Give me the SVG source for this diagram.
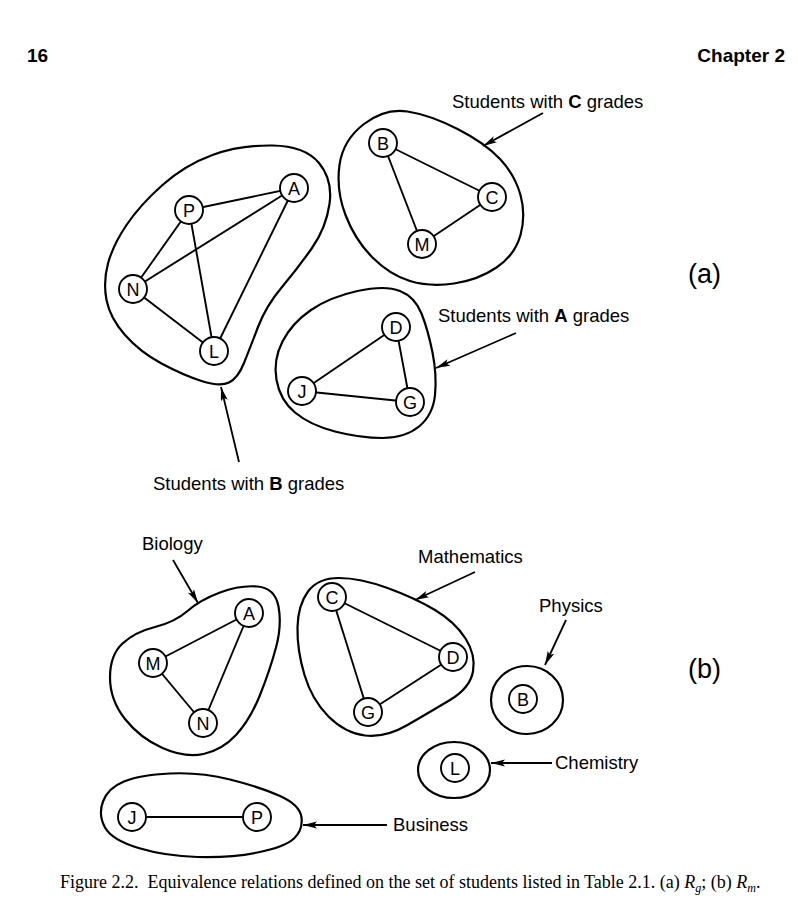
<svg xmlns="http://www.w3.org/2000/svg" width="798" height="923" viewBox="0 0 798 923">
<style>
.blob{fill:none;stroke:#000;stroke-width:2.2}
.edge{stroke:#000;stroke-width:1.9;fill:none}
.node circle{fill:#fff;stroke:#000;stroke-width:1.9}
.node text{font-family:"Liberation Sans",Arial,sans-serif;font-size:18px;text-anchor:middle;fill:#000}
.lbl{font-family:"Liberation Sans",Arial,sans-serif;font-size:18.5px;fill:#000}
.big{font-family:"Liberation Sans",Arial,sans-serif;font-size:27px;fill:#000}
.arr{stroke:#000;stroke-width:1.8;fill:none;marker-end:url(#ah)}
.hdr{font-family:"Liberation Sans",Arial,sans-serif;font-size:19px;font-weight:bold;fill:#000}
.cap{font-family:"Liberation Serif","Times New Roman",serif;font-size:18px;fill:#000}
</style>
<defs>
<marker id="ah" markerUnits="userSpaceOnUse" markerWidth="16" markerHeight="8" refX="14" refY="3.5" orient="auto">
<path d="M0,0 L14,3.5 L0,7 L3,3.5 Z" fill="#000"/>
</marker>
</defs>
<rect width="798" height="923" fill="#fff"/>
<text class="hdr" x="27" y="62">16</text>
<text class="hdr" x="785" y="62" text-anchor="end">Chapter 2</text>

<g id="blobs">
<path id="blob-B-grades" class="blob" d="M212.5,155 Q240,145 272.5,145.5 Q305,146 319,163 Q333,180 329.5,204 Q326,228 312,248 Q298,268 282,287 Q266,306 258,327 Q250,348 244,363 Q238,378 229,382.5 Q220,387 201.5,381 Q183,375 161.5,363.5 Q140,352 125,335 Q110,318 106.5,300 Q103,282 108,263.5 Q113,245 126.5,225 Q140,205 162.5,185 Q185,165 212.5,155 Z"/>
<path id="blob-C-grades" class="blob" d="M364,124 Q385,108 407.5,111.5 Q430,115 457.5,129 Q485,143 500,159 Q515,175 520.5,195 Q526,215 520.5,235 Q515,255 496.5,267.5 Q478,280 454,283.5 Q430,287 410,281 Q390,275 372.5,257.5 Q355,240 345.5,215 Q336,190 339.5,165 Q343,140 364,124 Z"/>
<path id="blob-A-grades" class="blob" d="M311,310 Q330,297 357.5,291 Q385,285 400,291 Q415,297 421.5,313.5 Q428,330 432.5,352.5 Q437,375 435,395 Q433,415 419,426.5 Q405,438 382.5,438 Q360,438 335,431.5 Q310,425 295,412.5 Q280,400 276.5,380 Q273,360 282.5,341.5 Q292,323 311,310 Z"/>
<path id="blob-biology" class="blob" d="M187.5,611 Q200,600 220,592.5 Q240,585 257.5,586.5 Q275,588 278.5,606.5 Q282,625 276,647.5 Q270,670 260,695 Q250,720 236,735 Q222,750 203.5,754 Q185,758 162.5,748 Q140,738 125,719 Q110,700 110,677.5 Q110,655 122.5,643.5 Q135,632 155,627 Q175,622 187.5,611 Z"/>
<path id="blob-math" class="blob" d="M308,591.5 Q318,578 339,578 Q360,578 387.5,588 Q415,598 435,610 Q455,622 465.5,638.5 Q476,655 473,671.5 Q470,688 450,700 Q430,712 407.5,725 Q385,738 365,735.5 Q345,733 328.5,716.5 Q312,700 304.5,675 Q297,650 297.5,627.5 Q298,605 308,591.5 Z"/>
<ellipse id="blob-physics" class="blob" cx="527" cy="700" rx="36" ry="34"/>
<ellipse id="blob-chemistry" class="blob" cx="454" cy="770" rx="36" ry="28"/>
<path id="blob-business" class="blob" d="M124,781.5 Q140,775 170,773.5 Q200,772 230,779.5 Q260,787 280,796 Q300,805 301.5,817.5 Q303,830 294,838.5 Q285,847 257.5,852.5 Q230,858 197.5,857 Q165,856 138.5,848 Q112,840 105,827.5 Q98,815 103,801.5 Q108,788 124,781.5 Z"/>
</g>

<g id="connectors">
<line class="edge" x1="189" y1="210" x2="294" y2="188"/>
<line class="edge" x1="189" y1="210" x2="133" y2="289"/>
<line class="edge" x1="189" y1="210" x2="214" y2="351"/>
<line class="edge" x1="133" y1="289" x2="294" y2="188"/>
<line class="edge" x1="133" y1="289" x2="214" y2="351"/>
<line class="edge" x1="294" y1="188" x2="214" y2="351"/>
<line class="edge" x1="383" y1="143" x2="492" y2="197"/>
<line class="edge" x1="383" y1="143" x2="422" y2="244"/>
<line class="edge" x1="422" y1="244" x2="492" y2="197"/>
<line class="edge" x1="302" y1="391" x2="396" y2="327"/>
<line class="edge" x1="396" y1="327" x2="410" y2="402"/>
<line class="edge" x1="302" y1="391" x2="410" y2="402"/>
<line class="edge" x1="153" y1="663" x2="249" y2="613"/>
<line class="edge" x1="153" y1="663" x2="203" y2="723"/>
<line class="edge" x1="249" y1="613" x2="203" y2="723"/>
<line class="edge" x1="332" y1="597" x2="453" y2="657"/>
<line class="edge" x1="332" y1="597" x2="368" y2="712"/>
<line class="edge" x1="368" y1="712" x2="453" y2="657"/>
<line class="edge" x1="132" y1="817" x2="257" y2="817"/>
<line class="arr" x1="543" y1="113" x2="483" y2="146"/>
<line class="arr" x1="516" y1="333" x2="436" y2="368"/>
<line class="arr" x1="239" y1="462" x2="221" y2="387"/>
<line class="arr" x1="173" y1="560" x2="198" y2="603"/>
<line class="arr" x1="475" y1="572" x2="415" y2="600"/>
<line class="arr" x1="566" y1="620" x2="545" y2="665"/>
<line class="arr" x1="552" y1="763" x2="491" y2="763"/>
<line class="arr" x1="387" y1="825" x2="303" y2="825"/>
</g>

<g id="node-a-A" class="node"><circle cx="294" cy="188" r="14"/><text x="294" y="194.5">A</text></g>
<g id="node-a-P" class="node"><circle cx="189" cy="210" r="14"/><text x="189" y="216.5">P</text></g>
<g id="node-a-N" class="node"><circle cx="133" cy="289" r="14"/><text x="133" y="295.5">N</text></g>
<g id="node-a-L" class="node"><circle cx="214" cy="351" r="14"/><text x="214" y="357.5">L</text></g>
<g id="node-a-B" class="node"><circle cx="383" cy="143" r="14"/><text x="383" y="149.5">B</text></g>
<g id="node-a-C" class="node"><circle cx="492" cy="197" r="14"/><text x="492" y="203.5">C</text></g>
<g id="node-a-M" class="node"><circle cx="422" cy="244" r="14"/><text x="422" y="250.5">M</text></g>
<g id="node-a-D" class="node"><circle cx="396" cy="327" r="14"/><text x="396" y="333.5">D</text></g>
<g id="node-a-J" class="node"><circle cx="302" cy="391" r="14"/><text x="302" y="397.5">J</text></g>
<g id="node-a-G" class="node"><circle cx="410" cy="402" r="14"/><text x="410" y="408.5">G</text></g>

<g id="node-b-A" class="node"><circle cx="249" cy="613" r="14"/><text x="249" y="619.5">A</text></g>
<g id="node-b-M" class="node"><circle cx="153" cy="663" r="14"/><text x="153" y="669.5">M</text></g>
<g id="node-b-N" class="node"><circle cx="203" cy="723" r="14"/><text x="203" y="729.5">N</text></g>
<g id="node-b-C" class="node"><circle cx="332" cy="597" r="14"/><text x="332" y="603.5">C</text></g>
<g id="node-b-D" class="node"><circle cx="453" cy="657" r="14"/><text x="453" y="663.5">D</text></g>
<g id="node-b-G" class="node"><circle cx="368" cy="712" r="14"/><text x="368" y="718.5">G</text></g>
<g id="node-b-B" class="node"><circle cx="523" cy="699" r="14"/><text x="523" y="705.5">B</text></g>
<g id="node-b-L" class="node"><circle cx="455" cy="768" r="14"/><text x="455" y="774.5">L</text></g>
<g id="node-b-J" class="node"><circle cx="132" cy="817" r="14"/><text x="132" y="823.5">J</text></g>
<g id="node-b-P" class="node"><circle cx="257" cy="817" r="14"/><text x="257" y="823.5">P</text></g>

<g id="labels">
<text class="lbl" x="452" y="108">Students with <tspan font-weight="bold">C</tspan> grades</text>
<text class="lbl" x="438" y="322">Students with <tspan font-weight="bold">A</tspan> grades</text>
<text class="lbl" x="153" y="490">Students with <tspan font-weight="bold">B</tspan> grades</text>
<text class="lbl" x="142" y="550">Biology</text>
<text class="lbl" x="418" y="563">Mathematics</text>
<text class="lbl" x="539" y="612">Physics</text>
<text class="lbl" x="555" y="769">Chemistry</text>
<text class="lbl" x="393" y="831">Business</text>
<text class="big" x="688" y="283">(a)</text>
<text class="big" x="688" y="678">(b)</text>
</g>
<text class="cap" x="60" y="888" xml:space="preserve">Figure 2.2.  Equivalence relations defined on the set of students listed in Table 2.1. (a) <tspan font-style="italic">R</tspan><tspan font-style="italic" font-size="12" dy="4">g</tspan><tspan dy="-4">; (b) </tspan><tspan font-style="italic">R</tspan><tspan font-style="italic" font-size="12" dy="4">m</tspan><tspan dy="-4">.</tspan></text>
</svg>
